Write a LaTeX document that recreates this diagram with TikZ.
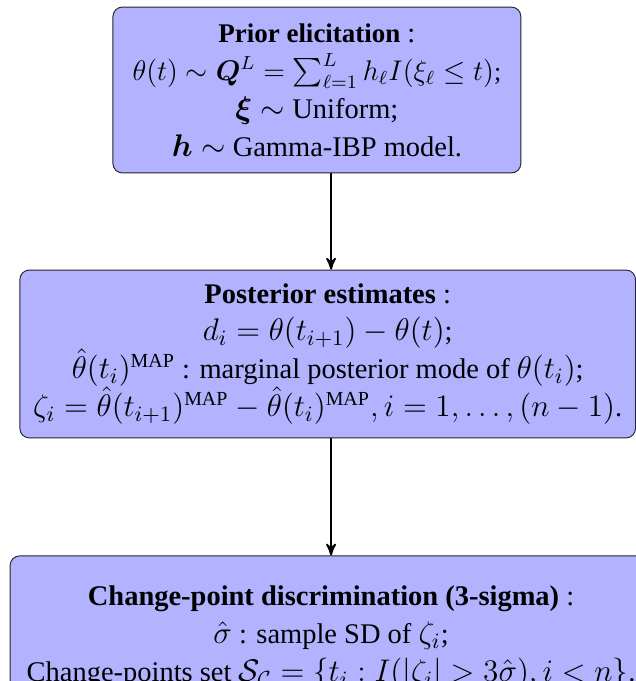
\RequirePackage{fix-cm}
\documentclass[tikz,border=0pt]{standalone}
\usepackage{amsmath,amssymb,bm}
\usepackage[no-math]{fontspec}
\setmainfont{Liberation Serif}[Scale=0.91]
\usetikzlibrary{arrows}
\definecolor{stagefill}{RGB}{178,178,255}
\tikzstyle{stage}=[rectangle, rounded corners=4pt, draw=black!85, fill=stagefill, align=center, inner sep=2pt, font=\fontsize{13.2}{16}\selectfont]
\tikzstyle{flow}=[-stealth', thick]
\newcommand{\smallmath}[1]{{\fontsize{12}{16}\selectfont #1}}

\begin{document}
\begin{tikzpicture}
	\useasboundingbox (0,0) rectangle (9.43,-10.10);
	\clip (0,0) rectangle (9.43,-10.10);
	\draw (4.70,-1.335) node[stage, minimum width=6.05cm, minimum height=2.46cm] (prior) {{\fontsize{12.5}{16}\selectfont\textbf{Prior elicitation}} :\\
		\smallmath{$\theta(t) \sim \bm{Q}^L = \sum_{\ell=1}^{L} h_\ell I(\xi_\ell \leq t)$;}\\
		$\bm{\xi} \sim$ Uniform;\\
		$\bm{h} \sim$ Gamma-IBP model.};
	\draw (4.86,-5.25) node[stage, minimum width=9.13cm, minimum height=2.49cm] (post) {\textbf{Posterior estimates} :\\
		$d_i = \theta(t_{i+1}) - \theta(t)$;\\
		$\hat{\theta}(t_i)^{\text{MAP}}$ : marginal posterior mode of $\theta(t_i)$;\\
		$\zeta_i = \hat{\theta}(t_{i+1})^{\text{MAP}} - \hat{\theta}(t_i)^{\text{MAP}}, i = 1, \ldots, (n-1)$.};
	\draw (4.91,-9.46) node[stage, minimum width=9.52cm, minimum height=2.43cm] (chg) {\textbf{Change-point discrimination (3-sigma)} :\\
		$\hat{\sigma}$ : sample SD of $\zeta_i$;\\
		Change-points set $\mathcal{S}_{\mathcal{C}} = \{t_i : I(|\zeta_i| > 3\hat{\sigma}), i < n\}$.};
	%
	\draw[flow] (prior.south -| chg.north) -- (post.north -| chg.north);
	\draw[flow] (post.south -| chg.north) -- (chg.north);
\end{tikzpicture}
\end{document}
